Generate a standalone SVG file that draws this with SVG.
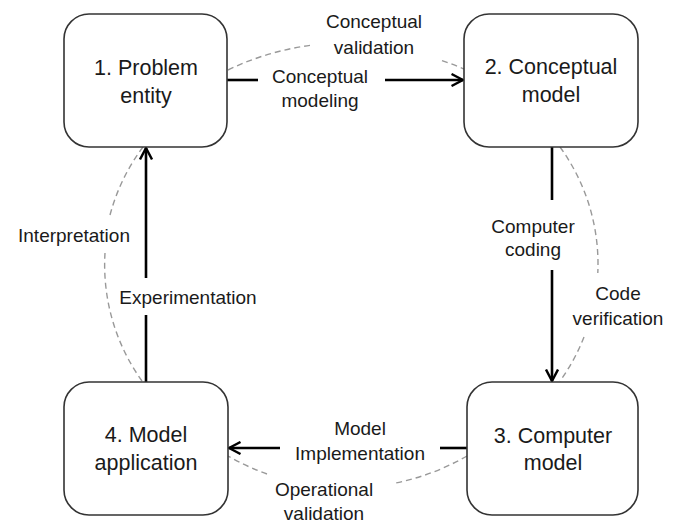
<svg xmlns="http://www.w3.org/2000/svg" width="677" height="523" viewBox="0 0 677 523">
<style>
.box{fill:#fff;stroke:#333;stroke-width:1.6}
.bt{font-family:"Liberation Sans",Arial,sans-serif;font-size:21.5px;fill:#1a1a1a;text-anchor:middle}
.lb{font-family:"Liberation Sans",Arial,sans-serif;font-size:19px;fill:#1a1a1a;text-anchor:middle}
.ar{fill:none;stroke:#000;stroke-width:2.6}
.ds{fill:none;stroke:#999;stroke-width:1.4;stroke-dasharray:6 4}
</style>
<defs>
<marker id="ah" viewBox="0 0 14 14" refX="12.5" refY="7" markerWidth="14" markerHeight="14" markerUnits="userSpaceOnUse" orient="auto">
<path d="M1,1 L12.5,7 L1,13" fill="none" stroke="#000" stroke-width="2.4"/>
</marker>
</defs>
<rect width="677" height="523" fill="#fff"/>
<g id="connectors">
<path class="ds" d="M228,70 A271,271 0 0 1 310,45.4"/>
<path class="ds" d="M442,60.6 A271,271 0 0 1 464,69"/>
<path class="ds" d="M560,147 A199,199 0 0 1 597.8,273"/>
<path class="ds" d="M584,337 A199,199 0 0 1 560,381"/>
<path class="ds" d="M467,456 A239,239 0 0 1 393,483.5"/>
<path class="ds" d="M267,474 A239,239 0 0 1 228,456"/>
<path class="ds" d="M142,381 A199,199 0 0 1 105,253"/>
<path class="ds" d="M110,215 A199,199 0 0 1 143,147"/>
<line class="ar" x1="227" y1="80" x2="258" y2="80"/>
<line class="ar" x1="385" y1="80" x2="463" y2="80" marker-end="url(#ah)"/>
<line class="ar" x1="552" y1="147" x2="552" y2="200"/>
<line class="ar" x1="552" y1="270" x2="552" y2="381" marker-end="url(#ah)"/>
<line class="ar" x1="467" y1="448" x2="440" y2="448"/>
<line class="ar" x1="280" y1="448" x2="229" y2="448" marker-end="url(#ah)"/>
<line class="ar" x1="146" y1="382" x2="146" y2="315"/>
<line class="ar" x1="146" y1="278" x2="146" y2="148" marker-end="url(#ah)"/>
<text class="lb" x="374" y="28">Conceptual</text>
<text class="lb" x="374" y="54">validation</text>
<text class="lb" x="320" y="83">Conceptual</text>
<text class="lb" x="320" y="107">modeling</text>
<text class="lb" x="533" y="233">Computer</text>
<text class="lb" x="533" y="256">coding</text>
<text class="lb" x="618" y="300">Code</text>
<text class="lb" x="618" y="325">verification</text>
<text class="lb" x="360" y="435">Model</text>
<text class="lb" x="360" y="460">Implementation</text>
<text class="lb" x="324" y="496">Operational</text>
<text class="lb" x="324" y="520">validation</text>
<text class="lb" x="74" y="242">Interpretation</text>
<text class="lb" x="188" y="304">Experimentation</text>
</g>
<g id="node1">
<rect class="box" x="64" y="14" width="163" height="133" rx="25"/>
<text class="bt" x="146" y="75">1. Problem</text>
<text class="bt" x="146" y="103">entity</text>
</g>
<g id="node2">
<rect class="box" x="464" y="14" width="174" height="133" rx="25"/>
<text class="bt" x="551" y="74">2. Conceptual</text>
<text class="bt" x="551" y="102">model</text>
</g>
<g id="node3">
<rect class="box" x="467" y="382" width="171" height="133" rx="25"/>
<text class="bt" x="553" y="443">3. Computer</text>
<text class="bt" x="553" y="470">model</text>
</g>
<g id="node4">
<rect class="box" x="64" y="382" width="164" height="133" rx="25"/>
<text class="bt" x="146" y="442">4. Model</text>
<text class="bt" x="146" y="470">application</text>
</g>
</svg>
